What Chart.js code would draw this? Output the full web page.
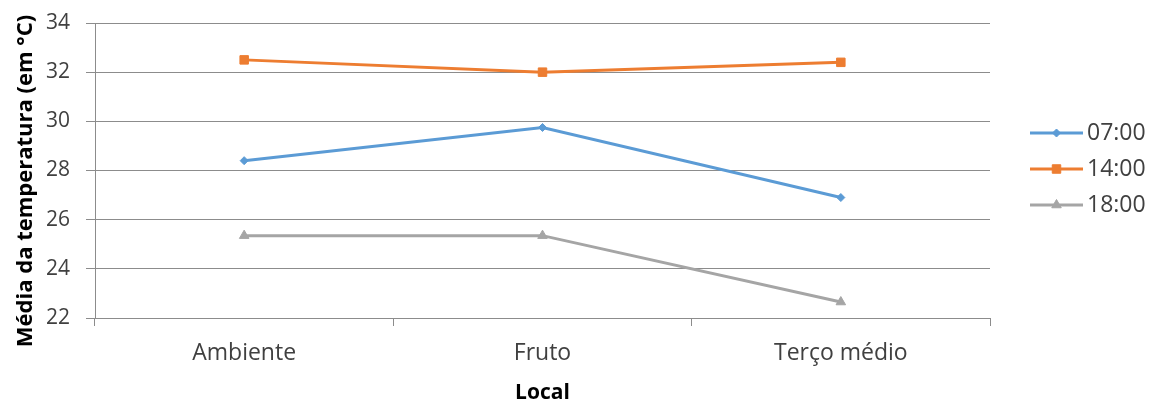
<!DOCTYPE html>
<html>
<head>
<meta charset="utf-8">
<script src="https://cdn.jsdelivr.net/npm/chart.js@4.4.1/dist/chart.umd.min.js"></script>
<style>
  html, body { margin: 0; padding: 0; background: #ffffff; }
  #wrap { width: 1157px; height: 402px; position: relative; }
</style>
</head>
<body>
<div id="wrap"><canvas id="chart" width="1157" height="402"></canvas></div>
<script>
// Mean temperature by location, at three times of day
const categories = ['Ambiente', 'Fruto', 'Terço médio'];
const seriesNames = ['07:00', '14:00', '18:00'];
const temp0700 = [28.4, 29.75, 26.9];
const temp1400 = [32.5, 32.0, 32.4];
const temp1800 = [25.35, 25.35, 22.65];
const yTickValues = [22, 24, 26, 28, 30, 32, 34];
const yAxisTitle = 'Média da temperatura (em °C)';
const xAxisTitle = 'Local';

const FONT = '"Open Sans", "Noto Sans", sans-serif';
const TEXT = '#404040';
const GRID = '#8c8c8c';

const seriesStyles = [
  { color: '#5b9bd5', point: 'rectRot', radius: 4 },
  { color: '#ed7d31', point: 'rect', radius: 6 },
  { color: '#a5a5a5', point: 'triangle', radius: 5.5 }
];
const seriesValues = [temp0700, temp1400, temp1800];

const datasets = seriesNames.map((name, i) => ({
  label: name,
  data: seriesValues[i],
  borderColor: seriesStyles[i].color,
  backgroundColor: seriesStyles[i].color,
  borderWidth: 3,
  pointStyle: seriesStyles[i].point,
  pointRadius: seriesStyles[i].radius,
  pointBorderWidth: 1,
  tension: 0
}));

// Legend drawn as a line with the marker in its middle, like the series
const sideLegend = {
  id: 'sideLegend',
  afterDraw(chart) {
    const ctx = chart.ctx;
    const x1 = 1030, x2 = 1083, y0 = 133, gap = 36;
    chart.data.datasets.forEach((ds, i) => {
      const y = y0 + i * gap;
      ctx.save();
      ctx.strokeStyle = ds.borderColor;
      ctx.lineWidth = 3;
      ctx.beginPath();
      ctx.moveTo(x1, y);
      ctx.lineTo(x2, y);
      ctx.stroke();
      ctx.fillStyle = ds.borderColor;
      ctx.strokeStyle = ds.borderColor;
      ctx.lineWidth = 1;
      Chart.helpers.drawPoint(ctx, {
        pointStyle: ds.pointStyle,
        radius: ds.pointRadius,
        borderWidth: 1,
        rotation: 0
      }, (x1 + x2) / 2, y);
      ctx.fillStyle = TEXT;
      ctx.font = '23px ' + FONT;
      ctx.textBaseline = 'middle';
      ctx.textAlign = 'left';
      ctx.fillText(ds.label, x2 + 4, y);
      ctx.restore();
    });
  }
};

// Vertical axis title, centred a little below the middle of the plot
const yTitle = {
  id: 'yTitle',
  afterDraw(chart) {
    const ctx = chart.ctx;
    ctx.save();
    ctx.translate(32, 181);
    ctx.rotate(-Math.PI / 2);
    ctx.fillStyle = '#000000';
    ctx.font = 'bold 22px ' + FONT;
    ctx.textAlign = 'center';
    ctx.textBaseline = 'alphabetic';
    ctx.fillText(yAxisTitle, 0, 0);
    ctx.restore();
  }
};

new Chart(document.getElementById('chart'), {
  type: 'line',
  data: { labels: categories, datasets },
  plugins: [sideLegend, yTitle],
  options: {
    responsive: false,
    animation: false,
    layout: { padding: { left: 0, right: 167, top: 23, bottom: 0 } },
    plugins: { legend: { display: false }, tooltip: { enabled: false } },
    scales: {
      x: {
        type: 'category',
        offset: true,
        afterFit: s => { s.height = 84; },
        grid: { display: true, drawOnChartArea: false, offset: true, tickLength: 8, color: GRID, lineWidth: 1 },
        border: { display: true, color: GRID, width: 1 },
        ticks: { color: TEXT, font: { family: FONT, size: 23 }, padding: 14 },
        title: {
          display: true, text: xAxisTitle, color: '#000000',
          font: { family: FONT, size: 21, weight: 'bold', lineHeight: 0.9 },
          padding: { top: 0, bottom: 0 }
        }
      },
      y: {
        min: 22, max: 34,
        afterFit: s => { s.width = 95; },
        afterBuildTicks: s => { s.ticks = yTickValues.map(v => ({ value: v })); },
        grid: { color: GRID, lineWidth: 1, tickLength: 9 },
        border: { display: true, color: GRID, width: 1 },
        ticks: { color: TEXT, font: { family: FONT, size: 21, lineHeight: 0.6 }, padding: 16 }
      }
    }
  }
});
</script>
</body>
</html>
